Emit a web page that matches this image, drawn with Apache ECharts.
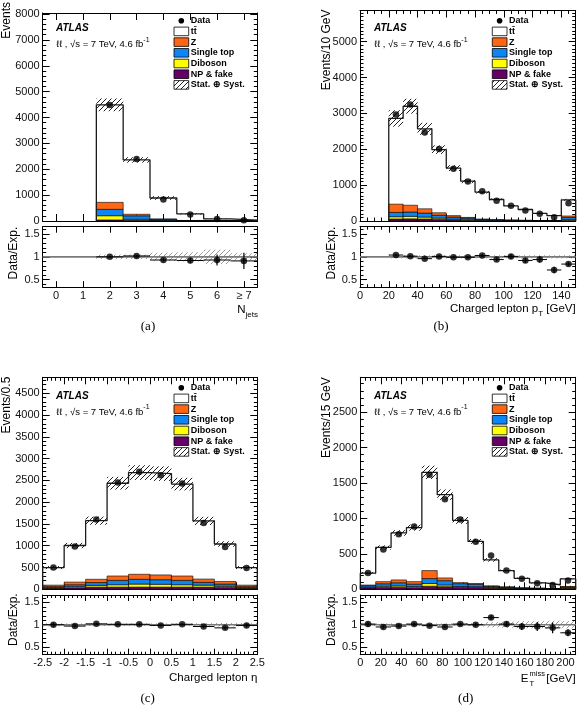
<!DOCTYPE html>
<html><head><meta charset="utf-8"><title>ATLAS dilepton control distributions</title>
<script src="https://cdn.jsdelivr.net/npm/echarts@6.0.0/dist/echarts.min.js"></script>
<style>html,body{margin:0;padding:0;background:#fff;}#chart{width:585px;height:713px;}</style>
</head><body><div id="chart"></div>
<script>
// ================= DATA =================
const legendLabels = ['Data', 'tt\u0304', 'Z', 'Single top', 'Diboson', 'NP & fake', 'Stat. \u2295 Syst.'];

// (a) jet multiplicity
const aBinLow = [1.5, 2.5, 3.5, 4.5, 5.5, 6.5];
const aBinWidth = 1;
const aData = [4480, 2400, 830, 255, 76, 28];
const aTotal = [4490, 2360, 890, 275, 82, 31];
const aZ = [270, 60, 12, 3, 1, 0.5];
const aSingleTop = [245, 130, 40, 10, 3, 1];
const aDiboson = [165, 40, 10, 3, 1, 0.3];
const aNPFake = [40, 30, 15, 5, 2, 1];
const aUnc = [0.055, 0.045, 0.08, 0.09, 0.14, 0.08];
const aRatio = [1.0, 1.02, 0.93, 0.92, 0.93, 0.91];
const aRatioErr = [0.015, 0.02, 0.035, 0.06, 0.12, 0.18];
const aRatioBand = [0.05, 0.05, 0.09, 0.1, 0.16, 0.08];
const aXTicks = [0, 1, 2, 3, 4, 5, 6, 7];
const aXLabels = ['0', '1', '2', '3', '4', '5', '6', '\u2265 7'];
const aYTicks = [0, 1000, 2000, 3000, 4000, 5000, 6000, 7000, 8000];

// (b) charged lepton pT
const bBinLow = [20, 30, 40, 50, 60, 70, 80, 90, 100, 110, 120, 130, 140];
const bBinWidth = 10;
const bData = [2970, 3250, 2470, 2010, 1460, 1100, 830, 565, 425, 295, 200, 105, 495];
const bTotal = [2860, 3200, 2570, 1990, 1475, 1110, 805, 600, 420, 320, 213, 148, 590];
const bZ = [230, 190, 120, 70, 40, 20, 10, 6, 4, 3, 2, 1, 40];
const bSingleTop = [120, 120, 110, 80, 60, 45, 25, 18, 12, 9, 7, 5, 55];
const bDiboson = [65, 70, 55, 40, 25, 20, 10, 7, 5, 4, 3, 2, 30];
const bNPFake = [55, 60, 55, 40, 25, 15, 8, 5, 4, 3, 2, 2, 15];
const bUnc = [0.08, 0.065, 0.065, 0.06, 0.055, 0.05, 0.05, 0.05, 0.05, 0.05, 0.05, 0.06, 0.05];
const bRatio = [1.04, 1.015, 0.96, 1.01, 0.99, 0.99, 1.03, 0.94, 1.01, 0.92, 0.94, 0.71, 0.84];
const bRatioErr = [0.02, 0.02, 0.02, 0.025, 0.025, 0.03, 0.035, 0.04, 0.05, 0.055, 0.065, 0.07, 0.04];
const bRatioBand = [0.035, 0.035, 0.035, 0.035, 0.035, 0.035, 0.035, 0.035, 0.035, 0.035, 0.035, 0.035, 0.035];
const bXTicks = [0, 20, 40, 60, 80, 100, 120, 140];
const bXLabels = ['0', '20', '40', '60', '80', '100', '120', '140'];
const bYTicks = [0, 1000, 2000, 3000, 4000, 5000];

// (c) charged lepton eta
const cBinLow = [-2.5, -2.0, -1.5, -1.0, -0.5, 0.0, 0.5, 1.0, 1.5, 2.0];
const cBinWidth = 0.5;
const cData = [500, 980, 1600, 2450, 2700, 2620, 2430, 1520, 970, 490];
const cTotal = [498, 1005, 1575, 2435, 2680, 2655, 2415, 1570, 1040, 497];
const cZ = [35, 60, 75, 100, 115, 110, 100, 75, 60, 35];
const cSingleTop = [25, 45, 65, 100, 110, 105, 100, 65, 50, 25];
const cDiboson = [10, 25, 40, 55, 70, 65, 55, 45, 30, 10];
const cNPFake = [25, 35, 50, 50, 50, 50, 50, 50, 40, 25];
const cUnc = [0.07, 0.06, 0.06, 0.06, 0.063, 0.063, 0.06, 0.06, 0.06, 0.07];
const cRatio = [1.0, 0.97, 1.02, 1.01, 1.01, 0.985, 1.01, 0.96, 0.93, 0.985];
const cRatioErr = [0.045, 0.03, 0.025, 0.02, 0.02, 0.02, 0.02, 0.025, 0.03, 0.045];
const cRatioBand = [0.035, 0.03, 0.03, 0.03, 0.03, 0.03, 0.03, 0.035, 0.04, 0.035];
const cXTicks = [-2.5, -2, -1.5, -1, -0.5, 0, 0.5, 1, 1.5, 2, 2.5];
const cXLabels = ['-2.5', '-2', '-1.5', '-1', '-0.5', '0', '0.5', '1', '1.5', '2', '2.5'];
const cYTicks = [0, 500, 1000, 1500, 2000, 2500, 3000, 3500, 4000, 4500];

// (d) missing transverse energy
const dBinLow = [0, 15, 30, 45, 60, 75, 90, 105, 120, 135, 150, 165, 180, 195];
const dBinWidth = 15;
const dData = [230, 560, 775, 885, 1615, 1270, 985, 670, 478, 265, 148, 86, 60, 123];
const dTotal = [228, 590, 795, 870, 1650, 1335, 972, 675, 415, 262, 155, 90, 64, 148];
const dZ = [10, 30, 40, 35, 113, 38, 15, 8, 5, 3, 2, 1, 1, 5];
const dSingleTop = [20, 35, 45, 35, 70, 61, 40, 35, 18, 12, 8, 6, 4, 15];
const dDiboson = [10, 18, 20, 15, 38, 24, 14, 12, 8, 6, 4, 3, 2, 8];
const dNPFake = [20, 25, 27, 23, 43, 37, 25, 25, 16, 12, 6, 5, 3, 10];
const dUnc = [0.07, 0.05, 0.05, 0.05, 0.057, 0.055, 0.05, 0.05, 0.06, 0.06, 0.07, 0.08, 0.08, 0.07];
const dRatio = [1.015, 0.95, 0.97, 1.015, 0.98, 0.95, 1.015, 1.0, 1.16, 1.015, 0.96, 0.96, 0.93, 0.82];
const dRatioErr = [0.065, 0.04, 0.035, 0.035, 0.025, 0.03, 0.03, 0.04, 0.05, 0.06, 0.08, 0.1, 0.12, 0.08];
const dRatioBand = [0.03, 0.03, 0.03, 0.03, 0.03, 0.03, 0.03, 0.035, 0.06, 0.07, 0.08, 0.08, 0.09, 0.08];
const dXTicks = [0, 20, 40, 60, 80, 100, 120, 140, 160, 180, 200];
const dXLabels = ['0', '20', '40', '60', '80', '100', '120', '140', '160', '180', '200'];
const dYTicks = [0, 500, 1000, 1500, 2000, 2500];

const ratioTicks = [0.5, 1, 1.5];
const ratioLabels = ['0.5', '1', '1.5'];

// ================= STYLE / LAYOUT =================
const FONT = '"Liberation Sans", Arial, sans-serif';
const colZ = '#ff6614', colST = '#0d86f5', colDB = '#ffff00', colNP = '#660066';

function seq(a, b, s) { const r = []; const n = Math.round((b - a) / s); for (let i = 0; i <= n; i++) r.push(+(a + i * s).toFixed(6)); return r; }
function hatchCanvas(color, size, lw) {
  const c = document.createElement('canvas'); c.width = c.height = size;
  const g = c.getContext('2d'); g.strokeStyle = color; g.lineWidth = lw; g.beginPath();
  g.moveTo(0, size); g.lineTo(size, 0);
  g.moveTo(-size, size); g.lineTo(size, -size);
  g.moveTo(0, 2 * size); g.lineTo(2 * size, 0);
  g.stroke(); return c;
}
const hatchDark = { image: hatchCanvas('#222', 5, 1), repeat: 'repeat' };
const hatchLight = { image: hatchCanvas('#9a9a9a', 5, 1), repeat: 'repeat' };

const panels = [
  { lo: aBinLow, w: aBinWidth, data: aData, tot: aTotal, z: aZ, st: aSingleTop, db: aDiboson, np: aNPFake, unc: aUnc,
    ratio: aRatio, rerr: aRatioErr, rband: aRatioBand,
    left: 42.7, width: 214.6, mTop: 13, mBot: 221, rTop: 226.7, rBot: 287.2,
    xMin: -0.5, xMax: 7.5, xMajor: aXTicks, xLabels: aXLabels, xMinor: [],
    yMax: 8040, yMajor: aYTicks, yMinor: seq(0, 8000, 200) },
  { lo: bBinLow, w: bBinWidth, data: bData, tot: bTotal, z: bZ, st: bSingleTop, db: bDiboson, np: bNPFake, unc: bUnc,
    ratio: bRatio, rerr: bRatioErr, rband: bRatioBand,
    left: 360, width: 215.7, mTop: 10.5, mBot: 221, rTop: 226.7, rBot: 287.2,
    xMin: 0, xMax: 150, xMajor: bXTicks, xLabels: bXLabels, xMinor: seq(0, 150, 5),
    yMax: 5870, yMajor: bYTicks, yMinor: seq(0, 5800, 100) },
  { lo: cBinLow, w: cBinWidth, data: cData, tot: cTotal, z: cZ, st: cSingleTop, db: cDiboson, np: cNPFake, unc: cUnc,
    ratio: cRatio, rerr: cRatioErr, rband: cRatioBand,
    left: 42.7, width: 214.6, mTop: 377.3, mBot: 589.3, rTop: 595, rBot: 654.7,
    xMin: -2.5, xMax: 2.5, xMajor: cXTicks, xLabels: cXLabels, xMinor: seq(-2.5, 2.5, 0.1),
    yMax: 4867, yMajor: cYTicks, yMinor: seq(0, 4800, 100) },
  { lo: dBinLow, w: dBinWidth, data: dData, tot: dTotal, z: dZ, st: dSingleTop, db: dDiboson, np: dNPFake, unc: dUnc,
    ratio: dRatio, rerr: dRatioErr, rband: dRatioBand,
    left: 360.3, width: 215.4, mTop: 377.3, mBot: 589.3, rTop: 595, rBot: 654.7,
    xMin: 0, xMax: 210, xMajor: dXTicks, xLabels: dXLabels, xMinor: seq(0, 210, 5),
    yMax: 2990, yMajor: dYTicks, yMinor: seq(0, 2900, 100) }
];

const grids = [], xAxes = [], yAxes = [], series = [];

function labelFor(ticks, labels) {
  return function (v) { for (let i = 0; i < ticks.length; i++) if (Math.abs(ticks[i] - v) < 1e-6) return labels[i]; return ''; };
}
function addAxes(list, dim, gridIndex, min, max, major, labels, minor, showLabels, majLen, minLen) {
  const positions = dim === 'x' ? ['bottom', 'top'] : ['left', 'right'];
  positions.forEach((pos, k) => {
    list.push({
      type: 'value', gridIndex, min, max, position: pos, splitLine: { show: false },
      axisLine: { show: true, onZero: false, lineStyle: { color: '#000', width: 1 } },
      axisTick: { show: true, inside: true, length: majLen, customValues: major, lineStyle: { color: '#000', width: 1 } },
      axisLabel: (k === 0 && showLabels) ? {
        show: true, customValues: major, formatter: labelFor(major, labels),
        fontFamily: FONT, fontSize: 11, color: '#111', margin: dim === 'x' ? 3 : 3
      } : { show: false }
    });
    list.push({
      type: 'value', gridIndex, min, max, position: pos, splitLine: { show: false },
      axisLine: { show: false, onZero: false },
      axisTick: { show: minor.length > 0, inside: true, length: minLen, customValues: minor.length ? minor : [min], lineStyle: { color: '#000', width: 1 } },
      axisLabel: { show: false }
    });
  });
}

function rectRender(style) {
  return function (params, api) {
    const a = api.coord([api.value(0), api.value(2)]);
    const b = api.coord([api.value(1), api.value(3)]);
    return { type: 'rect', shape: { x: Math.min(a[0], b[0]), y: Math.min(a[1], b[1]), width: Math.abs(b[0] - a[0]), height: Math.abs(b[1] - a[1]) }, style: style };
  };
}
function errRender(params, api) {
  const x0 = api.value(0), x1 = api.value(1), r = api.value(2), e = api.value(3);
  const L = api.coord([x0, r]), R = api.coord([x1, r]);
  const T = api.coord([(x0 + x1) / 2, r + e]), B = api.coord([(x0 + x1) / 2, r - e]);
  return { type: 'group', children: [
    { type: 'line', shape: { x1: L[0], y1: L[1], x2: R[0], y2: R[1] }, style: { stroke: '#000', lineWidth: 1 } },
    { type: 'line', shape: { x1: T[0], y1: T[1], x2: B[0], y2: B[1] }, style: { stroke: '#000', lineWidth: 1.2 } }
  ] };
}

const ratioYLabels = ratioLabels;
const ratioMinor = seq(0.4, 1.6, 0.1);

panels.forEach((p, k) => {
  const gm = 2 * k, gr = 2 * k + 1;
  grids.push({ left: p.left, top: p.mTop, width: p.width, height: p.mBot - p.mTop });
  grids.push({ left: p.left, top: p.rTop, width: p.width, height: p.rBot - p.rTop });
  addAxes(xAxes, 'x', gm, p.xMin, p.xMax, p.xMajor, p.xLabels, p.xMinor, false, 7, 3.5);
  addAxes(yAxes, 'y', gm, 0, p.yMax, p.yMajor, p.yMajor.map(String), p.yMinor, true, 7, 3.5);
  addAxes(xAxes, 'x', gr, p.xMin, p.xMax, p.xMajor, p.xLabels, p.xMinor, true, 6, 3);
  addAxes(yAxes, 'y', gr, 0.33, 1.665, ratioTicks, ratioYLabels, ratioMinor, true, 7, 3.5);
  const xm = 4 * gm, xr = 4 * gr;

  // stacked backgrounds
  const cum = p.lo.map(() => 0);
  [[p.np, colNP], [p.db, colDB], [p.st, colST], [p.z, colZ]].forEach(([vals, col]) => {
    const d = p.lo.map((x, i) => [x, x + p.w, cum[i], cum[i] + vals[i]]);
    vals.forEach((v, i) => { cum[i] += v; });
    series.push({ type: 'custom', xAxisIndex: xm, yAxisIndex: xm, renderItem: rectRender({ fill: col, stroke: '#000', lineWidth: 0.6 }),
      encode: { x: [0, 1], y: [2, 3] }, data: d, z: 2, silent: true });
  });
  // uncertainty band
  series.push({ type: 'custom', xAxisIndex: xm, yAxisIndex: xm, renderItem: rectRender({ fill: hatchDark }),
    encode: { x: [0, 1], y: [2, 3] }, data: p.lo.map((x, i) => [x, x + p.w, p.tot[i] * (1 - p.unc[i]), p.tot[i] * (1 + p.unc[i])]), z: 3, silent: true });
  // total expectation outline (step)
  const step = [[p.lo[0], 0]];
  p.lo.forEach((x, i) => step.push([x, p.tot[i]]));
  step.push([p.lo[p.lo.length - 1] + p.w, p.tot[p.tot.length - 1]]);
  step.push([p.lo[p.lo.length - 1] + p.w, 0]);
  series.push({ type: 'line', xAxisIndex: xm, yAxisIndex: xm, step: 'end', data: step, symbol: 'none',
    lineStyle: { color: '#1a1a1a', width: 1.3 }, z: 4, silent: true });
  // data
  series.push({ type: 'scatter', xAxisIndex: xm, yAxisIndex: xm, data: p.lo.map((x, i) => [x + p.w / 2, p.data[i]]),
    symbol: 'circle', symbolSize: 6.5, itemStyle: { color: '#000' }, z: 5, silent: true });

  // ratio panel
  series.push({ type: 'custom', xAxisIndex: xr, yAxisIndex: xr, renderItem: rectRender({ fill: hatchLight }),
    encode: { x: [0, 1], y: [2, 3] }, data: p.lo.map((x, i) => [x, x + p.w, 1 - p.rband[i], 1 + p.rband[i]]), z: 2, silent: true });
  series.push({ type: 'line', xAxisIndex: xr, yAxisIndex: xr, data: [[p.xMin, 1], [p.xMax, 1]], symbol: 'none',
    lineStyle: { color: '#7a7a7a', width: 1.6 }, z: 3, silent: true });
  series.push({ type: 'custom', xAxisIndex: xr, yAxisIndex: xr, renderItem: errRender,
    encode: { x: [0, 1], y: [2] }, data: p.lo.map((x, i) => [x, x + p.w, p.ratio[i], p.rerr[i]]), z: 4, silent: true });
  series.push({ type: 'scatter', xAxisIndex: xr, yAxisIndex: xr, data: p.lo.map((x, i) => [x + p.w / 2, p.ratio[i]]),
    symbol: 'circle', symbolSize: 6.5, itemStyle: { color: '#000' }, z: 5, silent: true });
});

// ================= TEXT / LEGEND =================
const gfx = [];
function txt(x, y, text, o) {
  o = o || {};
  const style = { text: text, fill: '#000', font: o.font || ('12px ' + FONT),
    textAlign: o.align || 'left', textVerticalAlign: o.valign || 'middle', align: o.align || 'left', verticalAlign: o.valign || 'middle' };
  if (o.rich) style.rich = o.rich;
  if (o.lineHeight) style.lineHeight = o.lineHeight;
  gfx.push({ type: 'text', x: x, y: y, rotation: o.rot || 0, z: 100, silent: true, style: style });
}
const richSub = { sub: { font: '8px ' + FONT, verticalAlign: 'bottom', lineHeight: 9 } };
const richSup = { sup: { font: '7px ' + FONT, verticalAlign: 'top', lineHeight: 7 } };

const annots = [
  { ax: 56, ay: 28.3, sy: 44.3, bx: 174, ly: 20.7, yt: [7, 2, 'Events'], rt: [14, 226.7], cap: [148, 327, '(a)'] },
  { ax: 374, ay: 28.3, sy: 44.3, bx: 492.3, ly: 20.7, yt: [326.7, 9.5, 'Events/10 GeV'], rt: [331.7, 226.7], cap: [441, 327, '(b)'] },
  { ax: 56, ay: 396, sy: 412, bx: 174, ly: 387.7, yt: [7, 376.7, 'Events/0.5'], rt: [14, 593.3], cap: [147.7, 699, '(c)'] },
  { ax: 374, ay: 396, sy: 412, bx: 492.3, ly: 387.7, yt: [326.7, 377.3, 'Events/15 GeV'], rt: [331.7, 593.3], cap: [465.7, 699, '(d)'] }
];
const legendFills = [null, '#ffffff', colZ, colST, colDB, colNP, hatchDark];
annots.forEach(a => {
  txt(a.ax, a.ay, 'ATLAS', { font: 'italic bold 10px ' + FONT });
  txt(a.ax, a.sy, '\u2113\u2113 , \u221As = 7 TeV, 4.6 fb{sup|-1}', { font: '9.5px ' + FONT, rich: richSup, lineHeight: 16 });
  txt(a.yt[0], a.yt[1], a.yt[2], { rot: Math.PI / 2, align: 'right' });
  txt(a.rt[0], a.rt[1], 'Data/Exp.', { rot: Math.PI / 2, align: 'right' });
  txt(a.cap[0], a.cap[1], a.cap[2], { font: '13px "Liberation Serif", "DejaVu Serif", serif', align: 'center' });
  legendLabels.forEach((lab, i) => {
    const y = a.ly + i * 10.7;
    if (i === 0) {
      gfx.push({ type: 'circle', shape: { cx: a.bx + 7.3, cy: y, r: 2.8 }, style: { fill: '#000' }, z: 100, silent: true });
    } else {
      gfx.push({ type: 'rect', shape: { x: a.bx, y: y - 4.3, width: 14.7, height: 8.6 },
        style: { fill: legendFills[i], stroke: '#000', lineWidth: 0.8 }, z: 100, silent: true });
    }
    txt(a.bx + 16.7, y, lab, { font: 'bold 9px ' + FONT });
  });
});
// x-axis titles
txt(258, 309.5, 'N{sub|jets}', { align: 'right', rich: richSub, lineHeight: 18, font: '11.5px ' + FONT });
txt(575.7, 309, 'Charged lepton p{sub|T} [GeV]', { align: 'right', rich: richSub, lineHeight: 18, font: '11.5px ' + FONT });
txt(257.3, 678.3, 'Charged lepton \u03b7', { align: 'right', font: '11.5px ' + FONT });
txt(575.7, 679, '[GeV]', { align: 'right', font: '11.5px ' + FONT });
txt(528.5, 679, 'E', { align: 'right', font: '11.5px ' + FONT });
txt(529.5, 683.5, 'T', { font: '7.5px ' + FONT });
txt(529.5, 674, 'miss', { font: '7.5px ' + FONT });

const chart = echarts.init(document.getElementById('chart'), null, { renderer: 'canvas' });
chart.setOption({
  animation: false, backgroundColor: '#ffffff',
  grid: grids, xAxis: xAxes, yAxis: yAxes, series: series, graphic: gfx
});
</script>
</body></html>
